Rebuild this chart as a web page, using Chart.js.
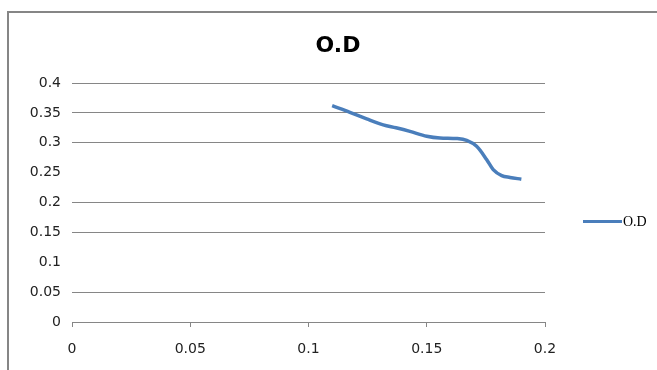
<!DOCTYPE html>
<html>
<head>
<meta charset="utf-8">
<script src="https://cdn.jsdelivr.net/npm/chart.js@4/dist/chart.umd.min.js"></script>
<style>
  html, body { margin: 0; padding: 0; background: #fff; }
  #wrap { position: relative; width: 657px; height: 370px; overflow: hidden; }
  #frame { position: absolute; left: 7px; top: 11px; width: 720px; height: 420px;
           border-left: 2px solid #868686; border-top: 2px solid #868686; }
  canvas { position: absolute; left: 0; top: 0; }
</style>
</head>
<body>
<div id="wrap">
  <div id="frame"></div>
  <canvas id="chart" width="657" height="370"></canvas>
</div>
<script>
// Series: optical density against concentration
const seriesName = 'O.D';
const xValues  = [0.110, 0.1175, 0.1246, 0.1316, 0.137, 0.1429, 0.150, 0.1556, 0.1627, 0.1669, 0.1711, 0.1753, 0.1781, 0.1817, 0.1852, 0.190];
const odValues = [0.362, 0.351, 0.340, 0.330, 0.325, 0.319, 0.311, 0.308, 0.307, 0.304, 0.294, 0.272, 0.255, 0.245, 0.242, 0.239];

// Axis ticks
const xTicks = [0, 0.05, 0.1, 0.15, 0.2];
const yTicks = [0, 0.05, 0.1, 0.15, 0.2, 0.25, 0.3, 0.35, 0.4];
// gridlines left undrawn on the value axis
const yGridSkipped = [0.1, 0.25];

const lineColor = '#4a7ebb';
const gridColor = '#868686';
const textColor = '#222222';
const fmt = v => String(Math.round(v * 100) / 100);

// Title and right-hand legend, drawn in the Excel style
const decor = {
  id: 'decor',
  afterDraw(chart) {
    const ctx = chart.ctx;
    const ds = chart.data.datasets[0];
    ctx.save();
    ctx.fillStyle = '#000';
    ctx.font = 'bold 22px "DejaVu Sans"';
    ctx.textAlign = 'center';
    ctx.textBaseline = 'middle';
    ctx.fillText(ds.label, 338, 46);

    ctx.strokeStyle = ds.borderColor;
    ctx.lineWidth = 3;
    ctx.beginPath();
    ctx.moveTo(583, 221.5);
    ctx.lineTo(622, 221.5);
    ctx.stroke();
    ctx.font = '14px "Liberation Serif"';
    ctx.textAlign = 'left';
    ctx.fillText(ds.label, 623, 222);
    ctx.restore();
  }
};

new Chart(document.getElementById('chart'), {
  type: 'line',
  data: {
    datasets: [{
      label: seriesName,
      data: xValues.map((x, i) => ({ x, y: odValues[i] })),
      borderColor: lineColor,
      borderWidth: 3.5,
      pointRadius: 0,
      fill: false,
      cubicInterpolationMode: 'monotone'
    }]
  },
  options: {
    responsive: false,
    animation: false,
    layout: { padding: { left: 0, right: 112, top: 83, bottom: 8 } },
    plugins: {
      legend: { display: false },
      title: { display: false },
      tooltip: { enabled: false }
    },
    scales: {
      x: {
        type: 'linear',
        min: 0, max: 0.2,
        afterBuildTicks: s => { s.ticks = xTicks.map(v => ({ value: v })); },
        afterFit: s => { s.height = 40; },
        border: { display: true, color: gridColor, width: 1 },
        grid: { drawOnChartArea: false, drawTicks: true, tickLength: 5, color: gridColor },
        ticks: { color: textColor, font: { family: 'DejaVu Sans', size: 14 }, padding: 14, maxRotation: 0, callback: fmt }
      },
      y: {
        type: 'linear',
        min: 0, max: 0.4,
        afterBuildTicks: s => { s.ticks = yTicks.map(v => ({ value: v })); },
        afterFit: s => { s.width = 72; },
        border: { display: false },
        grid: {
          drawTicks: false,
          lineWidth: 1,
          color: c => (c.tick && yGridSkipped.some(v => Math.abs(v - c.tick.value) < 1e-9)) ? 'rgba(0,0,0,0)' : gridColor
        },
        ticks: { color: textColor, font: { family: 'DejaVu Sans', size: 14 }, padding: 11, callback: fmt }
      }
    }
  },
  plugins: [decor]
});
</script>
</body>
</html>
